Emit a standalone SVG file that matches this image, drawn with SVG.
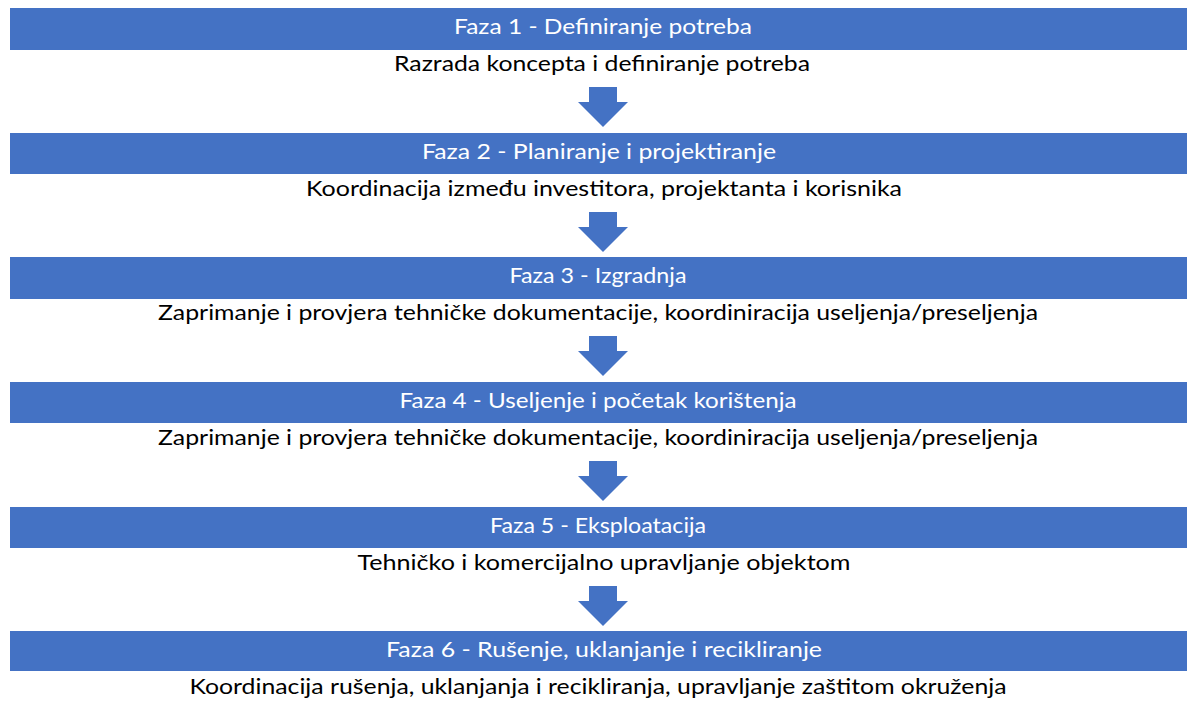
<svg xmlns="http://www.w3.org/2000/svg" width="1187" height="704" viewBox="0 0 1187 704">
<style>
.bar{fill:#4472C4;}
.h{font-family:Lato,"Liberation Sans",sans-serif;font-size:21px;fill:#ffffff;text-anchor:middle;}
.s{font-family:Lato,"Liberation Sans",sans-serif;font-size:21px;fill:#000000;text-anchor:middle;}
.arr{fill:#4472C4;}
</style>
<rect width="1187" height="704" fill="#ffffff"/>
<g id="phase1">
<rect class="bar" x="10" y="8" width="1177" height="42"/>
<text class="h" x="603" y="34" textLength="298" lengthAdjust="spacingAndGlyphs">Faza 1 - Definiranje potreba</text>
<text class="s" x="602" y="71" textLength="416" lengthAdjust="spacingAndGlyphs">Razrada koncepta i definiranje potreba</text>
</g>
<g id="phase2">
<rect class="bar" x="10" y="133" width="1177" height="41"/>
<text class="h" x="599" y="159" textLength="354" lengthAdjust="spacingAndGlyphs">Faza 2 - Planiranje i projektiranje</text>
<text class="s" x="604" y="196" textLength="596" lengthAdjust="spacingAndGlyphs">Koordinacija između investitora, projektanta i korisnika</text>
</g>
<g id="phase3">
<rect class="bar" x="10" y="257" width="1177" height="42"/>
<text class="h" x="598" y="283" textLength="177" lengthAdjust="spacingAndGlyphs">Faza 3 - Izgradnja</text>
<text class="s" x="598" y="320" textLength="880" lengthAdjust="spacingAndGlyphs">Zaprimanje i provjera tehničke dokumentacije, koordiniracija useljenja/preseljenja</text>
</g>
<g id="phase4">
<rect class="bar" x="10" y="382" width="1177" height="41"/>
<text class="h" x="598" y="408" textLength="397" lengthAdjust="spacingAndGlyphs">Faza 4 - Useljenje i početak korištenja</text>
<text class="s" x="598" y="445" textLength="880" lengthAdjust="spacingAndGlyphs">Zaprimanje i provjera tehničke dokumentacije, koordiniracija useljenja/preseljenja</text>
</g>
<g id="phase5">
<rect class="bar" x="10" y="507" width="1177" height="41"/>
<text class="h" x="598" y="533" textLength="216" lengthAdjust="spacingAndGlyphs">Faza 5 - Eksploatacija</text>
<text class="s" x="604" y="570" textLength="493" lengthAdjust="spacingAndGlyphs">Tehničko i komercijalno upravljanje objektom</text>
</g>
<g id="phase6">
<rect class="bar" x="10" y="631" width="1177" height="40"/>
<text class="h" x="604" y="657" textLength="436" lengthAdjust="spacingAndGlyphs">Faza 6 - Rušenje, uklanjanje i recikliranje</text>
<text class="s" x="598" y="694" textLength="817" lengthAdjust="spacingAndGlyphs">Koordinacija rušenja, uklanjanja i recikliranja, upravljanje zaštitom okruženja</text>
</g>
<g id="connectors">
<polygon class="arr" points="589,87 617,87 617,102 628,102 603,127 578,102 589,102"/>
<polygon class="arr" points="589,212 617,212 617,227 628,227 603,252 578,227 589,227"/>
<polygon class="arr" points="589,336 617,336 617,351 628,351 603,376 578,351 589,351"/>
<polygon class="arr" points="589,461 617,461 617,476 628,476 603,501 578,476 589,476"/>
<polygon class="arr" points="589,586 617,586 617,601 628,601 603,626 578,601 589,601"/>
</g>
</svg>
